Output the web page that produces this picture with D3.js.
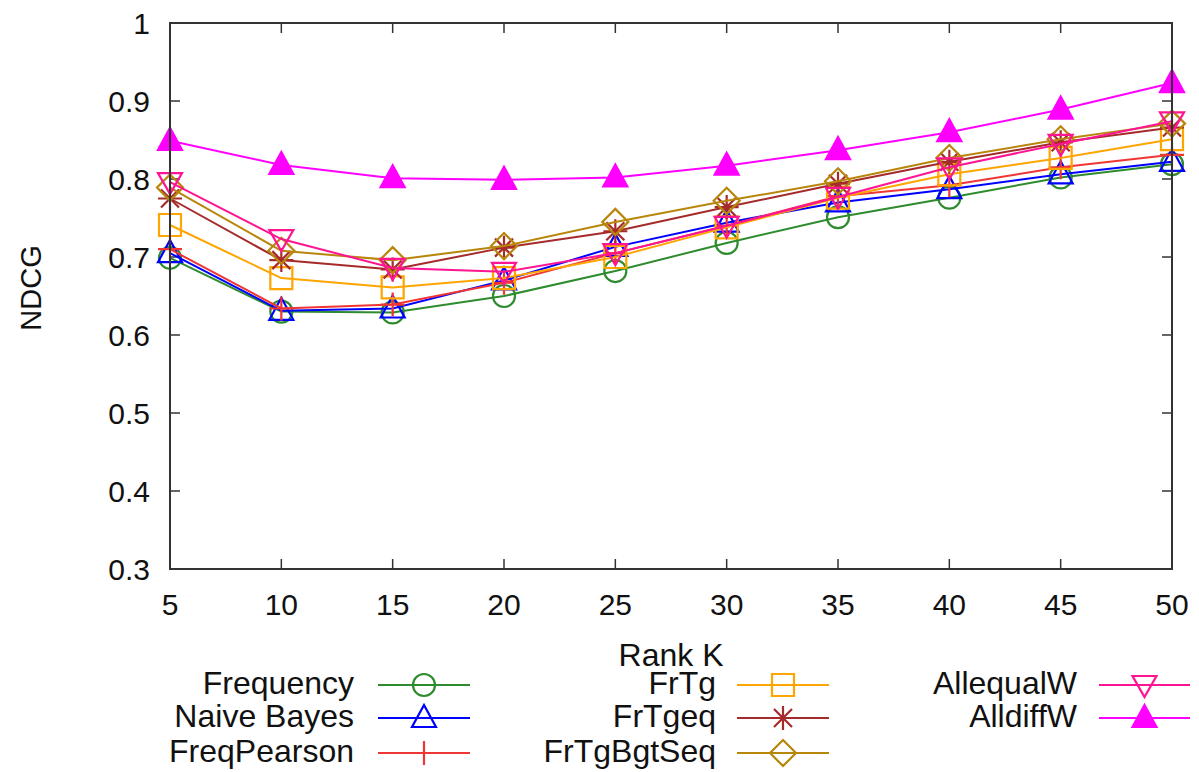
<!DOCTYPE html>
<meta charset="utf-8">
<script src="https://d3js.org/d3.v7.min.js"></script>
<style>
  body { margin: 0; background: #fff; }
  text { font-family: "Liberation Sans", Arial, sans-serif; fill: #111; }
</style>
<div id="chart"></div>
<script>
// data
const rankK = [5, 10, 15, 20, 25, 30, 35, 40, 45, 50];
const yTicks = [0.3, 0.4, 0.5, 0.6, 0.7, 0.8, 0.9, 1];

const frequency   = [0.699, 0.630, 0.629, 0.650, 0.682, 0.718, 0.751, 0.776, 0.802, 0.819];
const naiveBayes  = [0.705, 0.631, 0.634, 0.670, 0.713, 0.744, 0.770, 0.787, 0.806, 0.822];
const freqPearson = [0.710, 0.634, 0.639, 0.667, 0.705, 0.740, 0.778, 0.792, 0.815, 0.831];
const frTg        = [0.741, 0.673, 0.661, 0.673, 0.700, 0.738, 0.776, 0.806, 0.827, 0.851];
const frTgeq      = [0.775, 0.696, 0.684, 0.712, 0.733, 0.764, 0.794, 0.822, 0.847, 0.866];
const frTgBgtSeq  = [0.789, 0.708, 0.696, 0.714, 0.745, 0.772, 0.797, 0.827, 0.851, 0.871];
const allequalW   = [0.796, 0.723, 0.686, 0.681, 0.705, 0.740, 0.777, 0.815, 0.845, 0.874];
const alldiffW    = [0.849, 0.818, 0.801, 0.799, 0.802, 0.817, 0.837, 0.860, 0.889, 0.923];

const seriesNames = ["Frequency", "Naive Bayes", "FreqPearson", "FrTg", "FrTgeq",
                     "FrTgBgtSeq", "AllequalW", "AlldiffW"];
const seriesValues = [frequency, naiveBayes, freqPearson, frTg, frTgeq,
                      frTgBgtSeq, allequalW, alldiffW];
const colors = ["#2e8b2e", "#0000ff", "#f03535", "#ffa500", "#a52a2a",
                "#b8860b", "#ff1493", "#ff00ff"];
const markers = ["circle", "triangle", "plus", "square", "star", "diamond", "tridown", "trifill"];

const W = 1199, H = 772;
const margin = {top: 23, right: 27, bottom: 203, left: 170};
const width = W - margin.left - margin.right,
      height = H - margin.top - margin.bottom;

const svg = d3.select("#chart").append("svg")
  .attr("width", W).attr("height", H);
const g = svg.append("g")
  .attr("transform", `translate(${margin.left},${margin.top})`);

const x = d3.scaleLinear().domain([5, 50]).range([0, width]);
const y = d3.scaleLinear().domain([0.3, 1]).range([height, 0]);

// ticks (inward, mirrored) + labels
const tickLen = 10;
const axisColor = "#333";
yTicks.forEach(t => {
  if (t > 0.3 && t < 1) {
    g.append("line").attr("x1", 0).attr("x2", tickLen)
      .attr("y1", y(t)).attr("y2", y(t)).attr("stroke", axisColor).attr("stroke-width", 1.5);
    g.append("line").attr("x1", width).attr("x2", width - tickLen)
      .attr("y1", y(t)).attr("y2", y(t)).attr("stroke", axisColor).attr("stroke-width", 1.5);
  }
  g.append("text").attr("x", -20).attr("y", y(t) + 11)
    .attr("text-anchor", "end").style("font-size", "30px").text(d3.format("")(t));
});
rankK.forEach(k => {
  if (k > 5 && k < 50) {
    g.append("line").attr("x1", x(k)).attr("x2", x(k))
      .attr("y1", height).attr("y2", height - tickLen).attr("stroke", axisColor).attr("stroke-width", 1.5);
    g.append("line").attr("x1", x(k)).attr("x2", x(k))
      .attr("y1", 0).attr("y2", tickLen).attr("stroke", axisColor).attr("stroke-width", 1.5);
  }
  g.append("text").attr("x", x(k)).attr("y", height + 46)
    .attr("text-anchor", "middle").style("font-size", "30px").text(k);
});

// axis titles
svg.append("text").attr("x", 671).attr("y", 666).attr("text-anchor", "middle")
  .style("font-size", "32px").text("Rank K");
svg.append("text").attr("transform", "translate(41,288) rotate(-90)")
  .attr("text-anchor", "middle").style("font-size", "29px").text("NDCG");

// marker shapes
function markerPath(type) {
  switch (type) {
    case "circle": return d3.symbol(d3.symbolCircle, 380)();
    case "square": return "M-11,-11H11V11H-11Z";
    case "triangle": return "M0,-13L12,9H-12Z";
    case "tridown": return "M0,12L12,-9H-12Z";
    case "trifill": return "M0,-13L12,9H-12Z";
    case "diamond": return "M0,-13L13,0L0,13L-13,0Z";
    case "plus": return "M-12,0H12M0,-12V12";
    case "star": return "M-12,0H12M0,-12V12M-9,-9L9,9M-9,9L9,-9";
  }
}
function drawMarker(sel, type, color) {
  sel.append("path").attr("d", markerPath(type))
    .attr("fill", type === "trifill" ? color : "none")
    .attr("stroke", color).attr("stroke-width", 2.2);
}

const line = d3.line().x((d, i) => x(rankK[i])).y(d => y(d));

seriesValues.forEach((vals, s) => {
  const sg = g.append("g");
  sg.append("path").datum(vals).attr("d", line)
    .attr("fill", "none").attr("stroke", colors[s]).attr("stroke-width", 2);
  vals.forEach((v, i) => {
    const mg = sg.append("g").attr("transform", `translate(${x(rankK[i])},${y(v)})`);
    drawMarker(mg, markers[s], colors[s]);
  });
});

// frame
g.append("rect").attr("width", width).attr("height", height)
  .attr("fill", "none").attr("stroke", axisColor).attr("stroke-width", 2);

// legend, three columns
const legCols = [{tx: 354, x1: 378, x2: 470}, {tx: 716, x1: 737, x2: 829}, {tx: 1077, x1: 1099, x2: 1190}];
const legRows = [685, 718, 753];
seriesNames.forEach((name, s) => {
  const c = legCols[Math.floor(s / 3)], ry = legRows[s % 3];
  svg.append("text").attr("x", c.tx).attr("y", ry + 9)
    .attr("text-anchor", "end").style("font-size", "32px").text(name);
  svg.append("line").attr("x1", c.x1).attr("x2", c.x2).attr("y1", ry).attr("y2", ry)
    .attr("stroke", colors[s]).attr("stroke-width", 2);
  const mg = svg.append("g").attr("transform", `translate(${(c.x1 + c.x2) / 2},${ry})`);
  drawMarker(mg, markers[s], colors[s]);
});
</script>
